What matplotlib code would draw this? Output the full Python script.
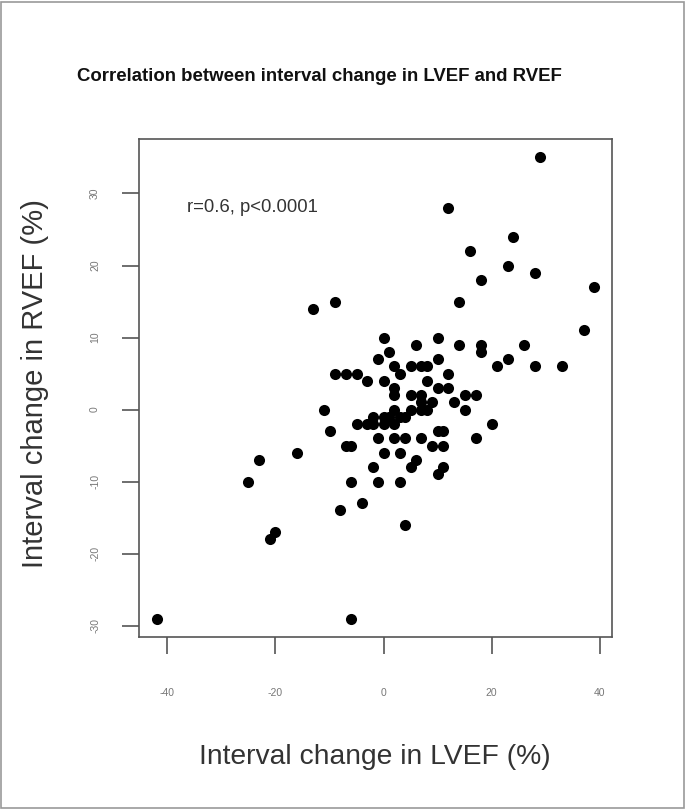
import matplotlib
matplotlib.use("Agg")
import matplotlib.pyplot as plt
from matplotlib.patches import Rectangle

plt.rcParams['font.family'] = ['Liberation Sans', 'DejaVu Sans']

# interval change in LVEF (x) and RVEF (y)
lvef = [-42, -6, -25, -23, -21, -20, -16, -13, -9, -11, -10, -9, -7, -5,
        -8, -4, -7, -6, -6, -1, 3, -2, 4, 0, 3, 6, 5, 11, 10,
        -1, 2, 4, 7, 9, 11, 10, 11, 17, 20, 15, 13, 15, 17, 10,
        12, 12, 10, 14, 18, 18, 10, 14, 0, 6, 1, -1, 2, 3, 5,
        7, 8, -3, 0, 8, 2, 2, 5, 7, 7, 9, 2, 5, 7, 8,
        3, 4, -2, 0, 1, -2, 0, 2, -5, -3,
        12, 29, 24, 16, 23, 28, 18, 39, 37, 26, 23, 21, 28, 33]
rvef = [-29, -29, -10, -7, -18, -17, -6, 14, 15, 0, -3, 5, 5, 5,
        -14, -13, -5, -5, -10, -10, -10, -8, -16, -6, -6, -7, -8, -8, -9,
        -4, -4, -4, -4, -5, -5, -3, -3, -4, -2, 0, 1, 2, 2, 3,
        3, 5, 7, 9, 9, 8, 10, 15, 10, 9, 8, 7, 6, 5, 6,
        6, 6, 4, 4, 4, 3, 2, 2, 2, 1, 1, 0, 0, 0, 0,
        -1, -1, -1, -1, -1, -2, -2, -2, -2, -2,
        28, 35, 24, 22, 20, 19, 18, 17, 11, 9, 7, 6, 6, 6]

xticks = [-40, -20, 0, 20, 40]
yticks = [-30, -20, -10, 0, 10, 20, 30]

fig = plt.figure(figsize=(6.85, 8.10), dpi=100)
ax = fig.add_axes([0.2029, 0.2136, 0.6905, 0.6148])

ax.plot(lvef, rvef, 'o', color='black', markersize=8, markeredgewidth=0)

# R style range, 4% extension
xr = max(lvef) - min(lvef)
yr = max(rvef) - min(rvef)
ax.set_xlim(min(lvef) - 0.04 * xr, max(lvef) + 0.04 * xr)
ax.set_ylim(min(rvef) - 0.04 * yr, max(rvef) + 0.04 * yr)

ax.set_xticks(xticks)
ax.set_yticks(yticks)
ax.set_xticklabels([str(t) for t in xticks])
ax.set_yticklabels([str(t) for t in yticks], rotation=90, va='center')
ax.tick_params(direction='out', length=12, width=1.2, color='#555555',
               labelsize=7.5, labelcolor='#777777')
ax.tick_params(axis='x', pad=25)
ax.tick_params(axis='y', pad=16)
for s in ax.spines.values():
    s.set_color('#555555')
    s.set_linewidth(1.2)

ax.text(-36.4, 28.0, "r=0.6, p<0.0001", fontsize=13.3, color='#333333',
        ha='left', va='center')

fig.text(0.467, 0.906, "Correlation between interval change in LVEF and RVEF",
         fontsize=13.4, fontweight='bold', ha='center', va='center', color='#111111')
fig.text(0.547, 0.065, "Interval change in LVEF (%)", fontsize=20.3,
         ha='center', va='center', color='#333333')
fig.text(0.051, 0.527, "Interval change in RVEF (%)", fontsize=21,
         rotation=90, ha='center', va='center', color='#333333')

# thin frame round the whole image
fig.patches.append(Rectangle((0.002, 0.002), 0.996, 0.996, transform=fig.transFigure,
                             fill=False, edgecolor='#999999', linewidth=1.2))

plt.savefig("out.png", dpi=100)
